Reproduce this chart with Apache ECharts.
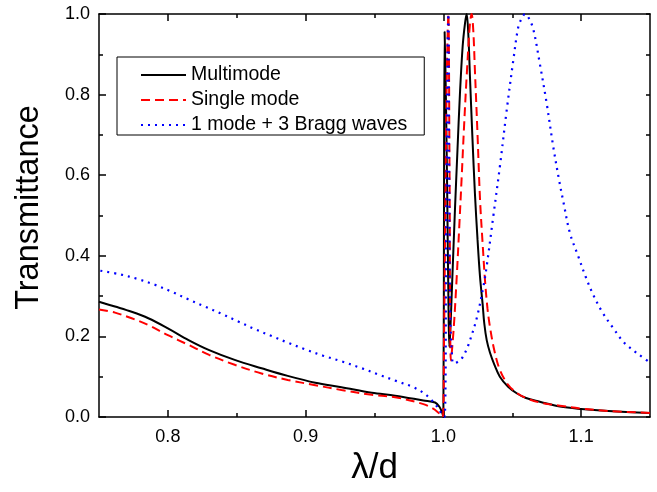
<!DOCTYPE html>
<html>
<head>
<meta charset="utf-8">
<script src="https://cdn.jsdelivr.net/npm/echarts@6/dist/echarts.min.js"></script>
<style>html,body{margin:0;padding:0;background:#fff}#c{width:657px;height:492px}</style>
</head>
<body>
<div id="c"></div>
<script>
const seriesNames = ['Multimode', 'Single mode', '1 mode + 3 Bragg waves'];
const xTickLabels = [0.8, 0.9, 1.0, 1.1];
const xMinorTicks = [0.85, 0.95, 1.05];

const multiX = [0.75,0.7616,0.7737,0.7858,0.80,0.815,0.83,0.849,0.868,0.887,0.907,0.926,0.948,0.965,0.9855,0.994,0.997,0.999,1.0,1.0004,1.0009,1.0018,1.0028,1.0037,1.0043,1.005,1.006,1.0084,1.0102,1.012,1.014,1.0157,1.0169,1.0181,1.0193,1.021,1.0229,1.0248,1.0266,1.0285,1.0297,1.0315,1.0338,1.037,1.041,1.047,1.0532,1.06,1.07,1.0846,1.1,1.12,1.15];
const multiY = [0.286,0.274,0.261,0.245,0.220,0.191,0.166,0.141,0.121,0.102,0.085,0.074,0.060,0.053,0.041,0.036,0.026,0.012,0.0,0.45,0.956,0.80,0.55,0.28,0.174,0.21,0.30,0.514,0.66,0.80,0.92,0.977,1.0,0.95,0.845,0.70,0.555,0.44,0.348,0.28,0.232,0.19,0.16,0.13,0.10,0.075,0.059,0.047,0.038,0.026,0.02,0.015,0.01];

const singleX = [0.75,0.7616,0.7737,0.7858,0.80,0.815,0.83,0.849,0.868,0.887,0.907,0.926,0.948,0.965,0.9855,0.992,0.996,0.9995,1.0005,1.0015,1.0025,1.0036,1.0045,1.0055,1.0075,1.0097,1.0115,1.0133,1.015,1.0169,1.0193,1.0205,1.0217,1.0229,1.0248,1.0266,1.0285,1.0302,1.032,1.0338,1.037,1.041,1.047,1.0532,1.06,1.07,1.0846,1.1,1.12,1.15];
const singleY = [0.267,0.259,0.245,0.228,0.203,0.179,0.154,0.129,0.108,0.092,0.079,0.067,0.055,0.049,0.032,0.022,0.012,0.0,0.2,0.55,0.85,1.0,0.6,0.14,0.22,0.348,0.47,0.596,0.72,0.845,0.977,1.0,0.96,0.86,0.70,0.54,0.43,0.34,0.27,0.224,0.165,0.117,0.08,0.06,0.047,0.036,0.028,0.021,0.015,0.01];

const braggX = [0.751,0.7652,0.7785,0.7906,0.8027,0.8148,0.8269,0.839,0.8511,0.8632,0.8753,0.8874,0.8995,0.9128,0.9262,0.9407,0.954,0.9661,0.9782,0.9855,0.989,0.994,0.998,1.0008,1.002,1.003,1.0036,1.0042,1.005,1.0065,1.0072,1.01,1.0133,1.0169,1.0193,1.0242,1.029,1.0314,1.0362,1.041,1.046,1.0508,1.0544,1.057,1.0593,1.062,1.0653,1.070,1.075,1.0798,1.084,1.0871,1.0919,1.098,1.1033,1.1088,1.1154,1.1234,1.1311,1.1415,1.15];
const braggY = [0.363,0.354,0.342,0.328,0.311,0.292,0.274,0.256,0.237,0.218,0.201,0.184,0.168,0.152,0.138,0.121,0.104,0.089,0.074,0.060,0.050,0.032,0.012,0.0,0.45,0.9,1.0,0.6,0.25,0.14,0.133,0.136,0.145,0.168,0.19,0.245,0.323,0.373,0.497,0.621,0.762,0.886,0.968,0.99,1.0,0.99,0.962,0.877,0.778,0.67,0.588,0.534,0.456,0.398,0.348,0.303,0.26,0.22,0.185,0.156,0.135];

const zip = (xs, ys) => xs.map((x, i) => [x, ys[i]]);
const FONT = 'Arial, "Liberation Sans", sans-serif';
const axisLine = { show: true, lineStyle: { color: '#000', width: 1.5 } };

const chart = echarts.init(document.getElementById('c'), null, { renderer: 'canvas' });
chart.setOption({
  animation: false,
  backgroundColor: '#fff',
  grid: { left: 99, right: 7, top: 14, bottom: 75, containLabel: false },
  legend: {
    orient: 'vertical', left: 117, top: 57,
    padding: [8, 17, 0, 23], itemGap: 5, itemWidth: 45, itemHeight: 14, itemTextGap: 5,
    borderColor: '#000', borderWidth: 1, borderRadius: 0, backgroundColor: '#fff',
    itemStyle: { opacity: 0 },
    textStyle: { fontFamily: FONT, fontSize: 19.5, lineHeight: 20, color: '#000' },
    data: seriesNames
  },
  xAxis: [
    { type: 'value', min: 0.75, max: 1.15, position: 'bottom', axisLine,
      axisTick: { show: true, inside: true, length: 7, customValues: xTickLabels, lineStyle: { color: '#000', width: 1.5 } },
      axisLabel: { customValues: xTickLabels, margin: 11, fontFamily: FONT, fontSize: 18, color: '#000', formatter: v => v.toFixed(1) },
      splitLine: { show: false },
      name: 'λ/d', nameLocation: 'middle', nameGap: 32, nameTextStyle: { fontFamily: FONT, fontSize: 35, color: '#000', verticalAlign: 'top' } },
    { type: 'value', min: 0.75, max: 1.15, position: 'bottom', axisLine: { show: false },
      axisTick: { show: true, inside: true, length: 4, customValues: xMinorTicks, lineStyle: { color: '#000', width: 1.5 } },
      axisLabel: { show: false }, splitLine: { show: false } },
    { type: 'value', min: 0.75, max: 1.15, position: 'top', axisLine,
      axisTick: { show: true, inside: true, length: 7, customValues: xTickLabels, lineStyle: { color: '#000', width: 1.5 } },
      axisLabel: { show: false }, splitLine: { show: false } },
    { type: 'value', min: 0.75, max: 1.15, position: 'top', axisLine: { show: false },
      axisTick: { show: true, inside: true, length: 4, customValues: xMinorTicks, lineStyle: { color: '#000', width: 1.5 } },
      axisLabel: { show: false }, splitLine: { show: false } }
  ],
  yAxis: [
    { type: 'value', min: 0, max: 1, interval: 0.2, position: 'left', axisLine,
      axisTick: { show: true, inside: true, length: 7, lineStyle: { color: '#000', width: 1.5 } },
      minorTick: { show: true, splitNumber: 2, length: 4, lineStyle: { color: '#000', width: 1.5 } },
      axisLabel: { margin: 9, fontFamily: FONT, fontSize: 18, color: '#000', formatter: v => v.toFixed(1) },
      splitLine: { show: false },
      name: 'Transmittance', nameLocation: 'middle', nameGap: 53, nameTextStyle: { fontFamily: FONT, fontSize: 32.5, color: '#000', padding: [0, 0, 0, 16] } },
    { type: 'value', min: 0, max: 1, interval: 0.1, position: 'right', axisLine,
      axisTick: { show: true, inside: true, length: 4, lineStyle: { color: '#000', width: 1.5 } },
      axisLabel: { show: false }, splitLine: { show: false } }
  ],
  series: [
    { name: seriesNames[0], type: 'line', xAxisIndex: 0, yAxisIndex: 0, data: zip(multiX, multiY),
      symbol: 'none', showSymbol: false, smooth: 0.35, z: 3,
      lineStyle: { color: '#000', width: 2 }, itemStyle: { color: '#000' } },
    { name: seriesNames[1], type: 'line', xAxisIndex: 0, yAxisIndex: 0, data: zip(singleX, singleY),
      symbol: 'none', showSymbol: false, smooth: 0.35, z: 4,
      lineStyle: { color: '#ff0000', width: 2, type: [9, 5] }, itemStyle: { color: '#ff0000' } },
    { name: seriesNames[2], type: 'line', xAxisIndex: 0, yAxisIndex: 0, data: zip(braggX, braggY),
      symbol: 'none', showSymbol: false, smooth: 0.35, z: 5,
      lineStyle: { color: '#0000ff', width: 2.2, type: [2, 5] }, itemStyle: { color: '#0000ff' } }
  ]
});
</script>
</body>
</html>
